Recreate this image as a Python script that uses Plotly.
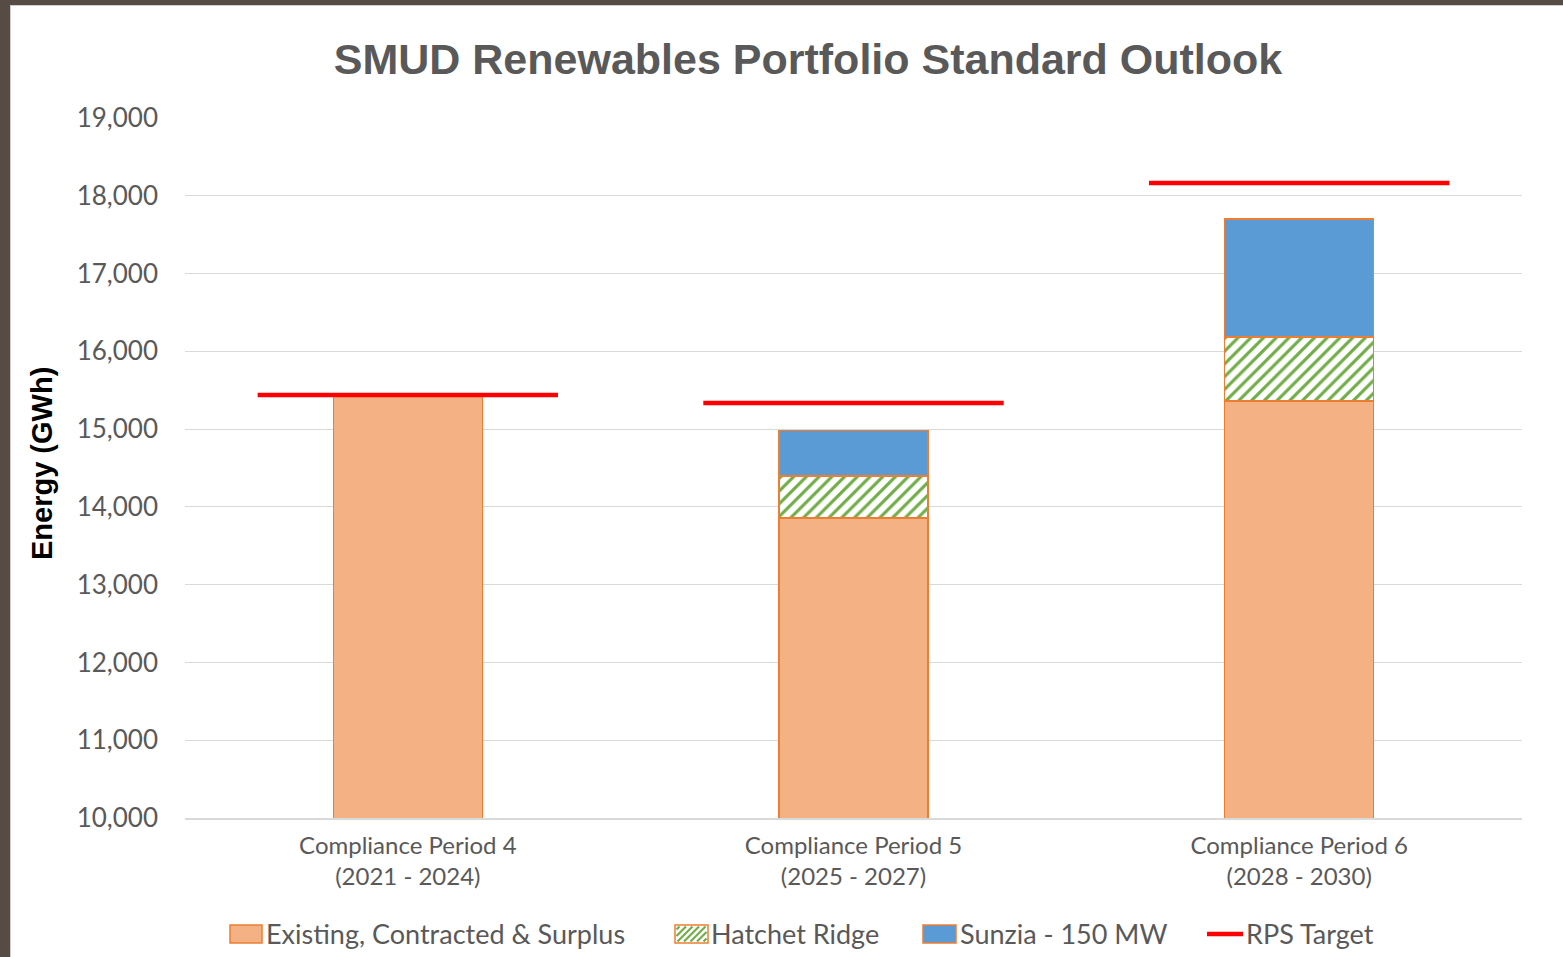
import plotly.graph_objects as go

categories = ["Compliance Period 4<br>(2021 - 2024)",
              "Compliance Period 5<br>(2025 - 2027)",
              "Compliance Period 6<br>(2028 - 2030)"]
existing = [15460, 13855, 15360]
hatchet = [0, 540, 825]
sunzia = [0, 590, 1515]
rps_target = [15440, 15335, 18165]
series_names = ["Existing, Contracted & Surplus", "Hatchet Ridge", "Sunzia - 150 MW", "RPS Target"]

ORANGE_FILL = "#f4b183"
ORANGE_EDGE = "#ed7d31"
GREEN = "#70ad47"
BLUE = "#5b9bd5"
RED = "#ff0000"
TXT = "#595959"

W, H = 1563, 957
L, R, T, B = 185, 41, 118, 139
pw, ph = W - L - R, H - T - B


def px_x(p):
    return (p - L) / pw


def px_y(p):
    return (H - B - p) / ph


x_idx = list(range(len(categories)))
BW = 0.334
fig = go.Figure()
fig.add_bar(x=x_idx, y=existing, name=series_names[0],
            marker=dict(color=ORANGE_FILL, line=dict(color=ORANGE_EDGE, width=1.5)), width=BW)
fig.add_bar(x=x_idx, y=hatchet, name=series_names[1],
            marker=dict(color="white", line=dict(color=ORANGE_EDGE, width=1.5),
                        pattern=dict(shape="/", fgcolor=GREEN, bgcolor="white",
                                     size=9, solidity=0.35, fillmode="replace")), width=BW)
fig.add_bar(x=x_idx, y=sunzia, name=series_names[2],
            marker=dict(color=BLUE, line=dict(color=ORANGE_EDGE, width=1.5)), width=BW)

lx, ly = [], []
for i, v in enumerate(rps_target):
    lx += [i - 0.337, i + 0.337, None]
    ly += [v, v, None]
fig.add_scatter(x=lx, y=ly, mode="lines", name=series_names[3],
                line=dict(color=RED, width=4.5), connectgaps=False)

shapes = [
    dict(type="rect", xref="paper", yref="paper", x0=px_x(0), x1=px_x(10), y0=px_y(H), y1=px_y(0),
         fillcolor="#574b46", line=dict(width=0), layer="above"),
    dict(type="rect", xref="paper", yref="paper", x0=px_x(0), x1=px_x(W), y0=px_y(5), y1=px_y(0),
         fillcolor="#574b46", line=dict(width=0), layer="above"),
    dict(type="line", xref="paper", yref="paper", x0=px_x(10.5), x1=px_x(10.5), y0=px_y(H), y1=px_y(5),
         line=dict(color="#cfcfcf", width=1), layer="above"),
    dict(type="line", xref="paper", yref="paper", x0=px_x(10), x1=px_x(W), y0=px_y(5.5), y1=px_y(5.5),
         line=dict(color="#cfcfcf", width=1), layer="above"),
]

# Custom legend
LEG_Y = 934
boxes = [(230, 262, ORANGE_FILL), (675, 708, "white"), (923, 956, BLUE)]
for x0, x1, col in boxes:
    shapes.append(dict(type="rect", xref="paper", yref="paper",
                       x0=px_x(x0), x1=px_x(x1), y0=px_y(943), y1=px_y(925),
                       fillcolor=col, line=dict(color=ORANGE_EDGE, width=1.5)))
# hatch lines in the Hatchet Ridge legend box
hx0, hx1, hy0, hy1 = 676.5, 706.5, 926.5, 941.5
c = hx0 + hy0 + 3
while c < hx1 + hy1:
    xa = max(hx0, c - hy1)
    xb = min(hx1, c - hy0)
    if xb > xa:
        shapes.append(dict(type="line", xref="paper", yref="paper",
                           x0=px_x(xa), y0=px_y(c - xa), x1=px_x(xb), y1=px_y(c - xb),
                           line=dict(color=GREEN, width=2.2)))
    c += 6.5
shapes.append(dict(type="line", xref="paper", yref="paper",
                   x0=px_x(1207), x1=px_x(1243), y0=px_y(LEG_Y), y1=px_y(LEG_Y),
                   line=dict(color=RED, width=4.5)))

annotations = []
for name, xs in zip(series_names, [264, 709, 958, 1244]):
    annotations.append(dict(text=name, xref="paper", yref="paper", x=px_x(xs), y=px_y(LEG_Y - 1),
                            xanchor="left", yanchor="middle", showarrow=False,
                            font=dict(family="Lato", size=27, color=TXT)))
annotations.append(dict(text="<b>Energy (GWh)</b>", xref="paper", yref="paper",
                        x=px_x(42), y=px_y(464), xanchor="center", yanchor="middle",
                        textangle=-90, showarrow=False,
                        font=dict(family="Liberation Sans", size=29, color="black")))

fig.update_layout(
    width=W, height=H,
    margin=dict(l=L, r=R, t=T, b=B),
    paper_bgcolor="white", plot_bgcolor="white",
    barmode="stack",
    shapes=shapes,
    annotations=annotations,
    showlegend=False,
    title=dict(text="<b>SMUD Renewables Portfolio Standard Outlook</b>",
               x=808 / W, xanchor="center", y=1 - 59 / H, yanchor="middle",
               font=dict(family="Liberation Sans", size=43, color=TXT)),
    xaxis=dict(tickvals=x_idx, ticktext=categories, range=[-0.5, 2.5],
               showgrid=False, showline=True, linecolor="#d9d9d9", linewidth=1.5,
               ticks="", ticklabelstandoff=5,
               tickfont=dict(family="Lato", size=24, color=TXT)),
    yaxis=dict(range=[10000, 19000], dtick=1000, tickformat=",d",
               showgrid=True, gridcolor="#d9d9d9", gridwidth=1.2, zeroline=False,
               ticks="", ticklabelstandoff=26,
               tickfont=dict(family="Lato", size=26, color=TXT)),
)

fig.write_html("out.html", config={"displayModeBar": False},
               post_script="document.body.style.margin='0';document.body.style.overflow='hidden';")
